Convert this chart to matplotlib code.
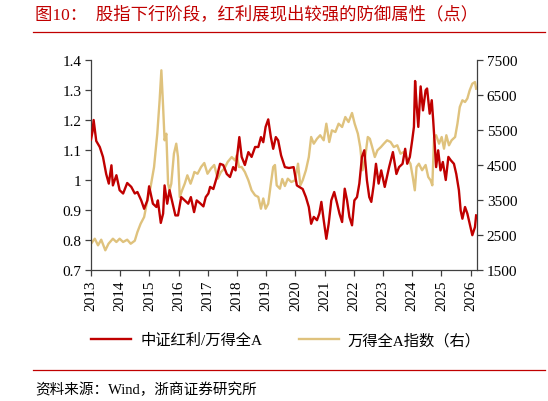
import matplotlib
matplotlib.use('Agg')
import matplotlib.pyplot as plt
from matplotlib.lines import Line2D

plt.rcParams['font.family'] = ['Liberation Serif', 'Noto Sans CJK SC', 'DejaVu Sans']
plt.rcParams['axes.unicode_minus'] = False

# 中证红利/万得全A (左轴)
ratio_t = [2013.00, 2013.05, 2013.09, 2013.18, 2013.30, 2013.41, 2013.52, 2013.61, 2013.70, 2013.75,
           2013.87, 2013.98, 2014.10, 2014.24, 2014.38, 2014.50, 2014.59, 2014.72, 2014.82, 2014.93,
           2014.99, 2015.12, 2015.24, 2015.29, 2015.39, 2015.47, 2015.52, 2015.61, 2015.69, 2015.77,
           2015.89, 2015.98, 2016.09, 2016.21, 2016.33, 2016.42, 2016.53, 2016.62, 2016.73, 2016.85,
           2016.93, 2017.02, 2017.08, 2017.19, 2017.31, 2017.42, 2017.53, 2017.65, 2017.76, 2017.87,
           2017.95, 2018.08, 2018.16, 2018.27, 2018.39, 2018.50, 2018.62, 2018.73, 2018.82, 2018.90,
           2018.98, 2019.07, 2019.16, 2019.24, 2019.33, 2019.41, 2019.51, 2019.64, 2019.78, 2019.94,
           2020.05, 2020.13, 2020.25, 2020.36, 2020.46, 2020.54, 2020.63, 2020.74, 2020.82, 2020.89,
           2020.97, 2021.06, 2021.14, 2021.23, 2021.33, 2021.43, 2021.51, 2021.60, 2021.69, 2021.77,
           2021.85, 2021.94, 2022.02, 2022.11, 2022.19, 2022.28, 2022.36, 2022.45, 2022.53, 2022.60,
           2022.68, 2022.76, 2022.85, 2022.94, 2023.06, 2023.21, 2023.34, 2023.46, 2023.55, 2023.67,
           2023.76, 2023.83, 2023.92, 2024.00, 2024.06, 2024.10, 2024.15, 2024.21, 2024.29, 2024.37,
           2024.46, 2024.51, 2024.60, 2024.67, 2024.72, 2024.77, 2024.82, 2024.89, 2024.97, 2025.05,
           2025.15, 2025.24, 2025.32, 2025.43, 2025.51, 2025.60, 2025.66, 2025.72, 2025.81, 2025.89,
           2025.97, 2026.06, 2026.15, 2026.19]
ratio_v = [1.135, 1.16, 1.20, 1.13, 1.11, 1.077, 1.02, 0.988, 1.049, 0.982,
           1.016, 0.966, 0.955, 0.99, 0.977, 0.955, 0.96, 0.932, 0.904, 0.932,
           0.979, 0.921, 0.91, 0.932, 0.857, 0.888, 0.982, 0.921, 0.966, 0.932,
           0.882, 0.882, 0.943, 0.932, 0.921, 0.943, 0.893, 0.932, 0.923, 0.912,
           0.943, 0.955, 0.977, 0.97, 1.01, 1.054, 1.05, 1.02, 1.01, 1.043,
           1.032, 1.143, 1.077, 1.05, 1.093, 1.077, 1.11, 1.11, 1.143, 1.126,
           1.177, 1.202, 1.143, 1.104, 1.143, 1.132, 1.082, 1.043, 1.040, 1.043,
           0.982, 0.977, 0.97, 0.943, 0.91, 0.854, 0.877, 0.866, 0.888, 0.927,
           0.866, 0.804, 0.854, 0.932, 0.96, 0.921, 0.888, 0.86, 0.971, 0.932,
           0.877, 0.849, 0.932, 0.943, 0.988, 1.077, 1.099, 0.999, 0.943, 0.927,
           0.982, 1.054, 0.988, 1.032, 0.977, 1.043, 1.093, 1.02, 1.043, 1.054,
           1.104, 1.054, 1.077, 1.132, 1.177, 1.33, 1.254, 1.177, 1.312, 1.232,
           1.299, 1.305, 1.221, 1.266, 1.199, 1.121, 1.043, 1.099, 1.032, 1.06,
           1.0, 1.077, 1.066, 1.054, 1.02, 0.966, 0.899, 0.871, 0.91, 0.888,
           0.854, 0.816, 0.843, 0.882]

# 万得全A指数 (右轴)
wind_t = [2013.00, 2013.13, 2013.24, 2013.35, 2013.49, 2013.60, 2013.75, 2013.87, 2013.98, 2014.10,
          2014.24, 2014.36, 2014.50, 2014.59, 2014.70, 2014.82, 2014.93, 2015.04, 2015.16, 2015.27,
          2015.35, 2015.41, 2015.47, 2015.52, 2015.58, 2015.64, 2015.69, 2015.75, 2015.84, 2015.92,
          2015.98, 2016.04, 2016.12, 2016.21, 2016.30, 2016.41, 2016.49, 2016.54, 2016.65, 2016.77,
          2016.88, 2016.99, 2017.11, 2017.22, 2017.34, 2017.45, 2017.57, 2017.68, 2017.82, 2017.93,
          2017.99, 2018.07, 2018.16, 2018.27, 2018.39, 2018.50, 2018.62, 2018.73, 2018.82, 2018.90,
          2018.98, 2019.07, 2019.16, 2019.24, 2019.30, 2019.36, 2019.47, 2019.55, 2019.64, 2019.74,
          2019.86, 2019.99, 2020.09, 2020.17, 2020.25, 2020.36, 2020.46, 2020.54, 2020.63, 2020.74,
          2020.85, 2020.97, 2021.06, 2021.16, 2021.25, 2021.37, 2021.48, 2021.60, 2021.71, 2021.82,
          2021.94, 2022.03, 2022.14, 2022.22, 2022.30, 2022.39, 2022.48, 2022.55, 2022.63, 2022.72,
          2022.81, 2022.93, 2023.03, 2023.14, 2023.26, 2023.37, 2023.49, 2023.60, 2023.71, 2023.83,
          2023.94, 2024.02, 2024.09, 2024.15, 2024.23, 2024.34, 2024.46, 2024.55, 2024.63, 2024.69,
          2024.75, 2024.82, 2024.92, 2025.01, 2025.09, 2025.17, 2025.26, 2025.35, 2025.47, 2025.55,
          2025.63, 2025.72, 2025.81, 2025.89, 2025.97, 2026.06, 2026.15, 2026.19]
wind_v = [2250, 2394, 2205, 2366, 2063, 2251, 2394, 2300, 2394, 2300,
          2366, 2251, 2337, 2586, 2823, 3014, 3491, 3871, 4443, 5394,
          6349, 7206, 6157, 5206, 5394, 3966, 3777, 3966, 4823, 5109,
          4728, 3586, 3777, 3966, 4206, 3966, 4157, 4300, 4250, 4443,
          4557, 4250, 4400, 4500, 4109, 4300, 4400, 4586, 4728, 4630,
          4777, 4443, 4443, 4300, 4063, 3777, 3634, 3586, 3251, 3543,
          3251, 3394, 3966, 4443, 4500, 3920, 3823, 4100, 3900, 4109,
          4014, 4063, 4537, 3920, 4063, 4350, 4728, 5300, 5109, 5250,
          5350, 5206, 5680, 5157, 5490, 5443, 5680, 5586, 5871, 5728,
          5986, 5680, 5394, 5014, 4350, 4728, 5300, 5250, 5014, 4728,
          4920, 5014, 5109, 5206, 5157, 5014, 5063, 4823, 4871, 4680,
          4537, 4157, 3777, 4443, 4537, 4350, 4500, 4157, 4063, 3920,
          5300, 5350, 5109, 5300, 4966, 5350, 5063, 5206, 5300, 5680,
          6157, 6349, 6300, 6400, 6636, 6823, 6870, 6680]

years = list(range(2013, 2027))
red = '#C00000'
gold = '#DFC27D'
spine_c = '#404040'

fig = plt.figure(figsize=(5.48, 4.02), dpi=100)
ax = fig.add_axes([91 / 548, 1 - 271 / 402, 386 / 548, 210 / 402])
ax2 = ax.twinx()

l1, = ax.plot(ratio_t, ratio_v, color=red, lw=1.7, label='中证红利/万得全A', zorder=3)
l2, = ax2.plot(wind_t, wind_v, color=gold, lw=1.7, label='万得全A指数（右）')
ax.set_zorder(ax2.get_zorder() + 1)
ax.patch.set_visible(False)

ax.set_xlim(2013, 2026.22)
ax.set_ylim(0.7, 1.4)
ax.set_yticks([0.7, 0.8, 0.9, 1.0, 1.1, 1.2, 1.3, 1.4])
ax.set_yticklabels(['0.7', '0.8', '0.9', '1', '1.1', '1.2', '1.3', '1.4'])
ax2.set_ylim(1500, 7500)
ax2.set_yticks(range(1500, 7501, 1000))
ax.set_xticks(years)
ax.set_xticklabels([str(y) for y in years], rotation=90)

for a in (ax, ax2):
    a.spines['top'].set_visible(False)
    for s in ('left', 'right', 'bottom'):
        a.spines[s].set_color(spine_c)
        a.spines[s].set_linewidth(0.9)
    a.tick_params(direction='out', length=4, width=0.9, color=spine_c, labelsize=11, pad=3)
ax.spines['right'].set_visible(False)
ax2.spines['left'].set_visible(False)
ax2.spines['bottom'].set_visible(False)

fig.text(35 / 548, 1 - 15 / 402, '图10：  股指下行阶段，红利展现出较强的防御属性（点）',
         color=red, fontsize=12.5, fontweight='light', va='center', ha='left')
fig.add_artist(Line2D([33 / 548, 545 / 548], [1 - 32.5 / 402] * 2, color=red, lw=0.9))

leg = fig.legend(handles=[l1, l2], loc='center', bbox_to_anchor=(286 / 548, 1 - 341 / 402),
                 ncol=2, frameon=False, fontsize=11, handlelength=2.6, columnspacing=2.4,
                 handletextpad=0.6)
for t in leg.get_texts():
    t.set_fontweight('light')

fig.add_artist(Line2D([33 / 548, 545 / 548], [1 - 371 / 402] * 2, color=red, lw=0.9))
fig.text(35 / 548, 1 - 390 / 402, '资料来源：Wind，浙商证券研究所', fontsize=10.5,
         fontweight='light', va='center', ha='left')

fig.savefig('out.png', dpi=100)
